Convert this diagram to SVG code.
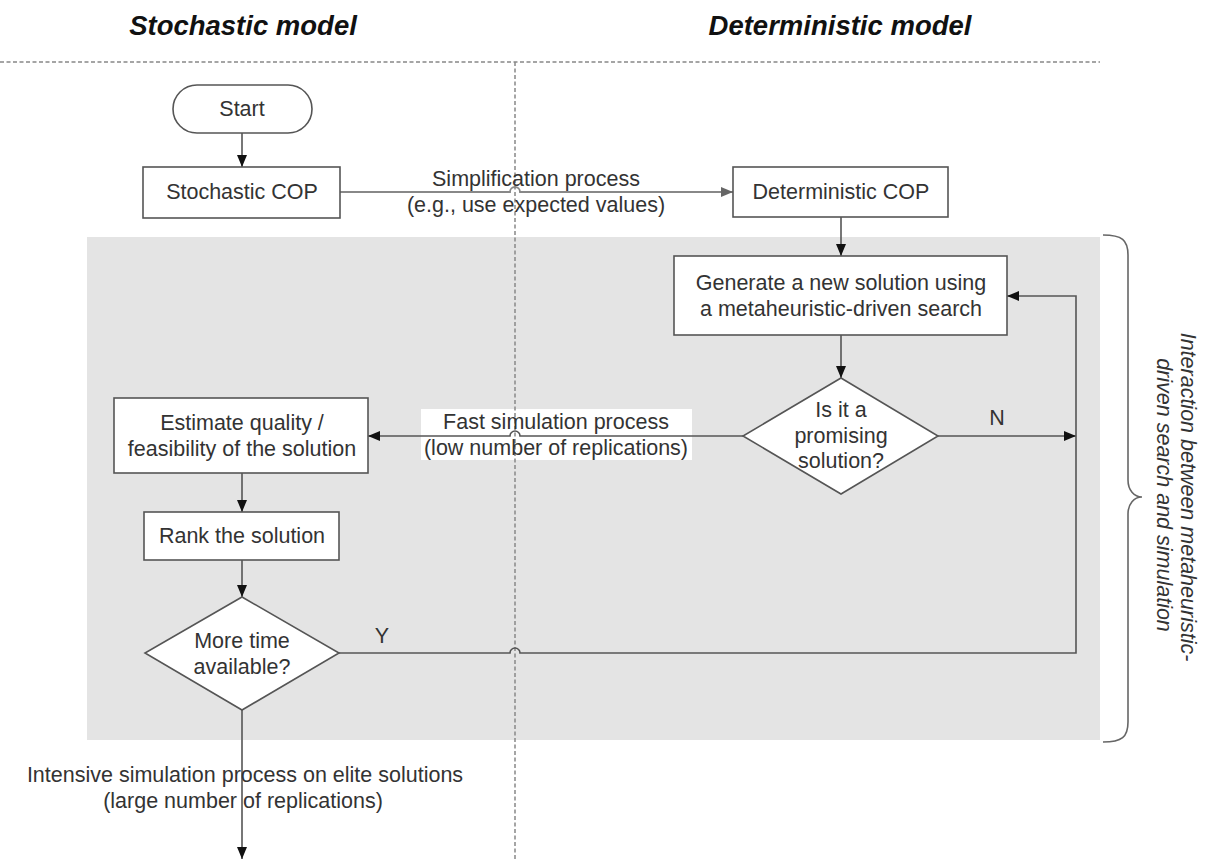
<svg xmlns="http://www.w3.org/2000/svg" width="1205" height="861" viewBox="0 0 1205 861">
<defs>
<style>
.t{font-family:"Liberation Sans",Arial,sans-serif;font-size:21.5px;fill:#333;text-anchor:middle}
.title{font-family:"Liberation Sans",Arial,sans-serif;font-size:27.5px;font-weight:bold;font-style:italic;fill:#111;text-anchor:middle}
.it{font-family:"Liberation Sans",Arial,sans-serif;font-size:21.5px;font-style:italic;fill:#333;text-anchor:middle}
.box{fill:#fff;stroke:#555;stroke-width:1.6}
.ln{fill:none;stroke:#555;stroke-width:1.6}
.dash{fill:none;stroke:#888;stroke-width:1.5;stroke-dasharray:4 2.5}
</style>
<marker id="ah" viewBox="0 0 12 10" refX="12" refY="5" markerWidth="12" markerHeight="10" markerUnits="userSpaceOnUse" orient="auto">
<path d="M0,0 L12,5 L0,10 z" fill="#111"/>
</marker>
<marker id="ahg" viewBox="0 0 12 10" refX="12" refY="5" markerWidth="12" markerHeight="10" markerUnits="userSpaceOnUse" orient="auto">
<path d="M0,0 L12,5 L0,10 z" fill="#666"/>
</marker>
</defs>
<rect width="1205" height="861" fill="#fff"/>
<rect id="region" x="87" y="237" width="1013" height="503" fill="#e4e4e4"/>
<g id="headers">
<text class="title" x="243" y="35">Stochastic model</text>
<text class="title" x="840" y="35">Deterministic model</text>
</g>
<rect x="421" y="409" width="271" height="51" fill="#fff"/>
<g id="lanes">
<path class="dash" d="M0,62 H1100"/>
<path class="dash" d="M515,62 V861"/>
</g>
<g id="connectors">
<path class="ln" d="M242,133 V167" marker-end="url(#ah)"/>
<path fill="none" stroke="#888" stroke-width="1.8" d="M340,192 H510 A5,5 0 0 1 520,192 H733" marker-end="url(#ahg)"/>
<path class="ln" d="M841,217 V256" marker-end="url(#ah)"/>
<path class="ln" d="M841,335 V378" marker-end="url(#ah)"/>
<path class="ln" d="M743,436 H520 A5,5 0 0 0 510,436 H368" marker-end="url(#ah)"/>
<path class="ln" d="M938,436 H1076" marker-end="url(#ah)"/>
<path class="ln" d="M242,473 V512" marker-end="url(#ah)"/>
<path class="ln" d="M242,560 V597" marker-end="url(#ah)"/>
<path class="ln" d="M339,653 H510 A5,5 0 0 1 520,653 H1076 V296 H1007" marker-end="url(#ah)"/>
<path class="ln" d="M242,710 V859" marker-end="url(#ah)"/>
<path fill="none" stroke="#666" stroke-width="1.6" d="M1103,235 C1122,235 1128,240 1128,255 V480 C1128,490 1134,497 1142,497 C1134,497 1128,504 1128,514 V722 C1128,737 1122,742 1103,742"/>
<text class="t" x="536" y="186">Simplification process</text>
<text class="t" x="536" y="212">(e.g., use expected values)</text>
<text class="t" x="556" y="429">Fast simulation process</text>
<text class="t" x="556" y="455">(low number of replications)</text>
<text class="t" x="997" y="425">N</text>
<text class="t" x="382" y="643">Y</text>
<text class="t" x="245" y="782">Intensive simulation process on elite solutions</text>
<text class="t" x="243" y="808">(large number of replications)</text>
<text class="it" transform="translate(1181,497) rotate(90)">Interaction between metaheuristic-</text>
<text class="it" transform="translate(1157,495) rotate(90)">driven search and simulation</text>
</g>
<g id="start">
<rect class="box" x="173" y="85" width="139" height="48" rx="24"/>
<text class="t" x="242" y="116">Start</text>
</g>
<g id="stochastic-cop">
<rect class="box" x="143" y="167" width="197" height="51"/>
<text class="t" x="242" y="199">Stochastic COP</text>
</g>
<g id="deterministic-cop">
<rect class="box" x="733" y="167" width="215" height="50"/>
<text class="t" x="841" y="199">Deterministic COP</text>
</g>
<g id="generate">
<rect class="box" x="674" y="256" width="333" height="79"/>
<text class="t" x="841" y="290">Generate a new solution using</text>
<text class="t" x="841" y="316">a metaheuristic-driven search</text>
</g>
<g id="promising">
<path class="box" d="M841,378 L938,436 L841,494 L743,436 z"/>
<text class="t" x="841" y="417">Is it a</text>
<text class="t" x="841" y="443">promising</text>
<text class="t" x="841" y="468">solution?</text>
</g>
<g id="estimate">
<rect class="box" x="114" y="398" width="254" height="75"/>
<text class="t" x="242" y="430">Estimate quality /</text>
<text class="t" x="242" y="456">feasibility of the solution</text>
</g>
<g id="rank">
<rect class="box" x="144" y="512" width="195" height="48"/>
<text class="t" x="242" y="543">Rank the solution</text>
</g>
<g id="more-time">
<path class="box" d="M242,597 L339,653 L242,710 L145,653 z"/>
<text class="t" x="242" y="648">More time</text>
<text class="t" x="242" y="674">available?</text>
</g>
</svg>
